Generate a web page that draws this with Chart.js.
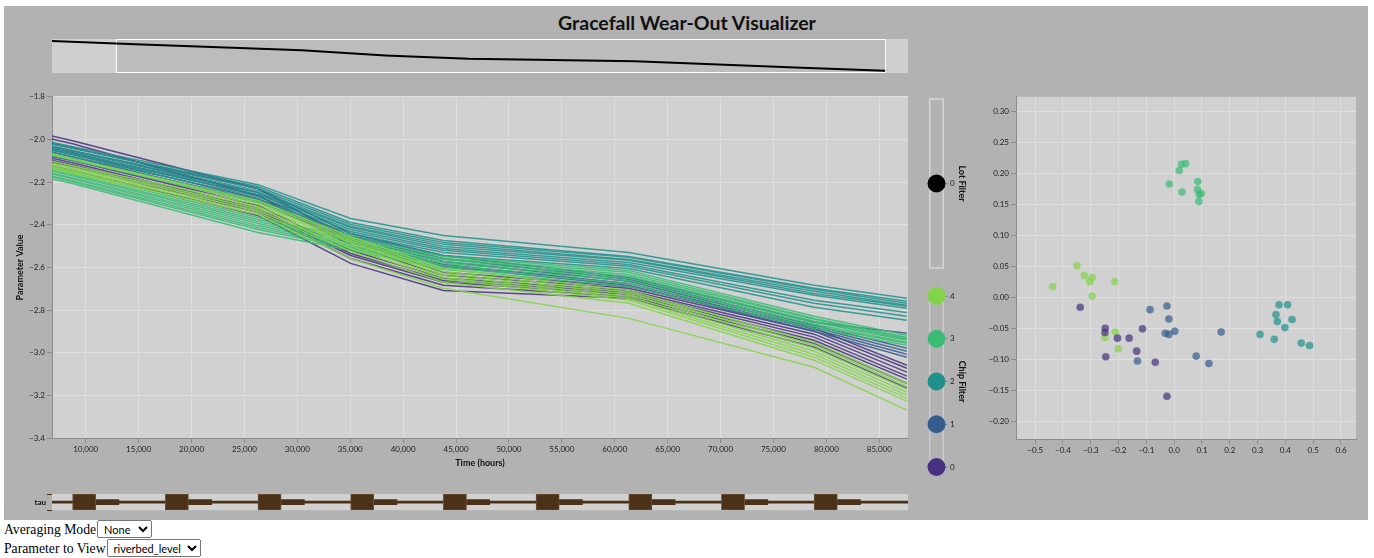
<!DOCTYPE html>
<html>
<head>
<meta charset="utf-8">
<title>Gracefall Wear-Out Visualizer</title>
<script src="https://cdn.jsdelivr.net/npm/chart.js@4/dist/chart.umd.min.js"></script>
<style>
  body { margin: 0; background: #fff; font-family: "Liberation Serif", serif; }
  #panel { position: absolute; left: 4px; top: 6px; width: 1364px; height: 514px; background: #b2b2b2; }
  #title { position: absolute; left: 0; top: 12px; width: 1374px; text-align: center;
           font: bold 19.5px Lato, "Open Sans", sans-serif; line-height: 22px; color: #111; }
  canvas { position: absolute; }
  .row { position: absolute; left: 4px; height: 19px; line-height: 19px; font-size: 13.7px; white-space: nowrap; }
  .row select { height: 18px; font: 11px Lato, sans-serif; vertical-align: top; margin: 0 0 0 1px; padding: 0 2px; }
</style>
</head>
<body>
<div id="panel"></div>
<div id="title">Gracefall Wear-Out Visualizer</div>
<canvas id="overview" width="856" height="34" style="left:52px;top:39px"></canvas>
<canvas id="main" width="912" height="390" style="left:0;top:90px"></canvas>
<canvas id="lot" width="55" height="190" style="left:920px;top:90px"></canvas>
<canvas id="chip" width="55" height="200" style="left:920px;top:280px"></canvas>
<canvas id="pca" width="400" height="380" style="left:960px;top:90px"></canvas>
<canvas id="tau" width="912" height="28" style="left:0;top:488px"></canvas>
<div class="row" style="top:520px">Averaging Mode<select style="width:55px"><option>None</option></select></div>
<div class="row" style="top:539px">Parameter to View<select style="width:94px"><option>riverbed_level</option></select></div>

<script>
// measurement times (hours) and per-chip curves of riverbed_level
const TIMES = [0, 8760, 26280, 35040, 43800, 61320, 78840, 87600];
const CHIP_COLORS = ["#46327e", "#365c8d", "#21918c", "#3bbb75", "#84d44b"];
const CHIP_IDS = [0, 1, 2, 3, 4];
const LOT_IDS = [0];

const CHIP0_LINES = [
  [-1.908, -2.006, -2.230, -2.474, -2.623, -2.689, -2.885, -3.059],
  [-1.922, -2.020, -2.263, -2.497, -2.637, -2.698, -2.899, -3.073],
  [-2.006, -2.099, -2.310, -2.520, -2.651, -2.708, -2.913, -3.091],
  [-2.015, -2.109, -2.324, -2.535, -2.661, -2.717, -2.927, -3.110],
  [-2.025, -2.118, -2.333, -2.544, -2.670, -2.726, -2.942, -3.124],
  [-2.034, -2.127, -2.343, -2.558, -2.684, -2.736, -2.956, -3.143],
  [-2.053, -2.146, -2.357, -2.581, -2.708, -2.745, -2.974, -3.166],
];
const CHIP1_LINES = [
  [-1.945, -2.039, -2.230, -2.441, -2.544, -2.647, -2.857, -2.909],
  [-1.959, -2.053, -2.249, -2.455, -2.558, -2.656, -2.871, -2.979],
  [-1.968, -2.062, -2.263, -2.464, -2.572, -2.665, -2.881, -2.993],
  [-1.978, -2.071, -2.277, -2.474, -2.586, -2.675, -2.890, -3.007],
  [-1.987, -2.081, -2.291, -2.483, -2.595, -2.684, -2.899, -3.021],
];
const CHIP2_LINES = [
  [-1.940, -2.034, -2.212, -2.371, -2.450, -2.530, -2.684, -2.745],
  [-1.950, -2.043, -2.221, -2.389, -2.474, -2.549, -2.698, -2.759],
  [-1.959, -2.053, -2.230, -2.399, -2.483, -2.553, -2.703, -2.768],
  [-1.964, -2.057, -2.240, -2.408, -2.492, -2.563, -2.712, -2.778],
  [-1.973, -2.067, -2.249, -2.413, -2.502, -2.567, -2.722, -2.782],
  [-1.978, -2.071, -2.258, -2.422, -2.511, -2.577, -2.731, -2.792],
  [-1.987, -2.081, -2.268, -2.432, -2.520, -2.586, -2.754, -2.811],
  [-1.996, -2.090, -2.282, -2.441, -2.530, -2.595, -2.768, -2.829],
  [-2.006, -2.099, -2.296, -2.450, -2.544, -2.605, -2.787, -2.848],
];
const CHIP3_LINES = [
  [-2.057, -2.156, -2.366, -2.460, -2.549, -2.614, -2.829, -2.918],
  [-2.067, -2.165, -2.375, -2.469, -2.558, -2.623, -2.839, -2.927],
  [-2.071, -2.170, -2.385, -2.478, -2.563, -2.633, -2.843, -2.932],
  [-2.081, -2.179, -2.394, -2.488, -2.572, -2.642, -2.853, -2.937],
  [-2.085, -2.184, -2.404, -2.497, -2.581, -2.651, -2.857, -2.942],
  [-2.095, -2.193, -2.413, -2.506, -2.591, -2.661, -2.867, -2.951],
  [-2.099, -2.198, -2.422, -2.511, -2.600, -2.675, -2.876, -2.956],
  [-2.109, -2.207, -2.436, -2.520, -2.609, -2.689, -2.885, -2.965],
];
const CHIP4_LINES = [
  [-1.992, -2.090, -2.287, -2.455, -2.605, -2.708, -2.951, -3.143],
  [-1.996, -2.095, -2.296, -2.464, -2.619, -2.717, -2.965, -3.157],
  [-2.029, -2.123, -2.305, -2.474, -2.628, -2.726, -2.979, -3.171],
  [-2.039, -2.132, -2.315, -2.483, -2.637, -2.736, -2.993, -3.185],
  [-2.043, -2.137, -2.324, -2.497, -2.647, -2.745, -3.007, -3.199],
  [-2.053, -2.146, -2.333, -2.511, -2.656, -2.754, -3.021, -3.213],
  [-2.057, -2.151, -2.343, -2.525, -2.670, -2.768, -3.035, -3.227],
  [-2.067, -2.160, -2.352, -2.558, -2.698, -2.839, -3.068, -3.269],
];

// mean curve for the overview strip
const OVERVIEW_MEAN = [-2.00, -2.11, -2.31, -2.48, -2.59, -2.675, -2.895, -2.99];

// projection scatter, one [pc1, pc2] pair per device
const PCA0 = [[-0.338, -0.016], [-0.248, -0.050], [-0.249, -0.057], [-0.204, -0.066], [-0.162, -0.066],
              [-0.114, -0.051], [-0.135, -0.087], [-0.246, -0.096], [-0.068, -0.105], [-0.026, -0.160]];
const PCA1 = [[-0.087, -0.020], [-0.026, -0.014], [-0.019, -0.035], [-0.032, -0.058], [-0.019, -0.060],
              [0.002, -0.055], [-0.132, -0.103], [0.079, -0.095], [0.125, -0.107], [0.169, -0.056]];
const PCA2 = [[0.377, -0.012], [0.408, -0.012], [0.366, -0.028], [0.371, -0.039], [0.424, -0.036],
              [0.398, -0.049], [0.309, -0.060], [0.360, -0.068], [0.457, -0.074], [0.487, -0.078]];
const PCA3 = [[-0.018, 0.183], [0.018, 0.205], [0.026, 0.215], [0.041, 0.216], [0.028, 0.170],
              [0.085, 0.187], [0.084, 0.174], [0.090, 0.166], [0.097, 0.168], [0.089, 0.155]];
const PCA4 = [[-0.350, 0.051], [-0.323, 0.035], [-0.295, 0.032], [-0.304, 0.025], [-0.214, 0.025],
              [-0.437, 0.017], [-0.295, 0.002], [-0.212, -0.056], [-0.249, -0.065], [-0.201, -0.083]];

// tau timeline blocks (hours)
const TAU_BOXES = [[8760, 10950], [17520, 19710], [26280, 28470], [35040, 37230], [43800, 45990],
                   [52560, 54750], [61320, 63510], [70080, 72270], [78840, 81030]];
const TAU_TAILS = [[10950, 13140], [19710, 21900], [28470, 30660], [37230, 39420], [45990, 48180],
                   [54750, 56940], [63510, 65700], [72270, 74460], [81030, 83220]];

const MAIN_X_RANGE = [6815, 87712];
const OVERVIEW_X_RANGE = [0, 90000];
const MAIN_X_TICKS = [10000, 15000, 20000, 25000, 30000, 35000, 40000, 45000,
                      50000, 55000, 60000, 65000, 70000, 75000, 80000, 85000];
const MAIN_Y_TICKS = [-3.4, -3.2, -3.0, -2.8, -2.6, -2.4, -2.2, -2.0, -1.8];
const PCA_X_TICKS = [-0.5, -0.4, -0.3, -0.2, -0.1, 0, 0.1, 0.2, 0.3, 0.4, 0.5, 0.6];
const PCA_Y_TICKS = [-0.2, -0.15, -0.1, -0.05, 0, 0.05, 0.1, 0.15, 0.2, 0.25, 0.3];

Chart.defaults.font.family = 'Lato, "Open Sans", sans-serif';
Chart.defaults.font.size = 8;
Chart.defaults.color = "#222";
Chart.defaults.animation = false;
Chart.defaults.responsive = false;
Chart.defaults.plugins.legend.display = false;
Chart.defaults.plugins.tooltip.enabled = false;

const minus = (s) => s.replace("-", "\u2212");
const fixedTicks = (list) => (scale) => { scale.ticks = list.map((v) => ({ value: v })); };
const AXIS_GRAY = "#8c8c8c";
const titleFont = { size: 9, weight: "bold" };

// fills the plot area before grid and marks
const plotBg = {
  id: "plotBg",
  beforeDraw(chart, args, opts) {
    const a = chart.chartArea, ctx = chart.ctx;
    ctx.save();
    ctx.fillStyle = opts.color || "#d1d1d1";
    ctx.fillRect(a.left, a.top, a.right - a.left, a.bottom - a.top);
    ctx.restore();
  },
};

// brush over the overview strip, spanning the main chart's range
const brush = {
  id: "brush",
  beforeDatasetsDraw(chart) {
    const x = chart.scales.x, a = chart.chartArea, ctx = chart.ctx;
    const x0 = x.getPixelForValue(MAIN_X_RANGE[0]), x1 = x.getPixelForValue(MAIN_X_RANGE[1]);
    ctx.save();
    ctx.fillStyle = "#bcbcbc";
    ctx.fillRect(x0, a.top, x1 - x0, a.bottom - a.top);
    ctx.strokeStyle = "#ffffff";
    ctx.lineWidth = 1;
    ctx.strokeRect(Math.round(x0) - 0.5, a.top + 0.5, Math.round(x1 - x0), a.bottom - a.top - 1);
    ctx.restore();
  },
};

const outline = {
  id: "outline",
  beforeDatasetsDraw(chart, args, opts) {
    const a = chart.chartArea, ctx = chart.ctx;
    ctx.save();
    ctx.strokeStyle = opts.color;
    ctx.lineWidth = 1.5;
    ctx.strokeRect(a.left + 0.75, a.top, a.right - a.left - 1.5, a.bottom - a.top);
    ctx.restore();
  },
};

// overview
new Chart(document.getElementById("overview"), {
  type: "line",
  data: {
    datasets: [{
      data: TIMES.map((t, i) => ({ x: t, y: OVERVIEW_MEAN[i] })),
      borderColor: "#000", borderWidth: 2, pointRadius: 0, clip: false,
    }],
  },
  options: {
    layout: { padding: 0 },
    scales: {
      x: { type: "linear", display: false, min: OVERVIEW_X_RANGE[0], max: OVERVIEW_X_RANGE[1] },
      y: { display: false, min: -3.067, max: -1.933 },
    },
    plugins: { plotBg: { color: "#cfcfcf" } },
  },
  plugins: [plotBg, brush],
});

// main time-series chart
const ALL_LINES = [CHIP0_LINES, CHIP1_LINES, CHIP2_LINES, CHIP3_LINES, CHIP4_LINES];
const lineSets = [];
ALL_LINES.forEach((lines, chip) => {
  lines.forEach((vals) => {
    lineSets.push({
      data: vals.map((v, i) => ({ x: TIMES[i], y: v })),
      borderColor: CHIP_COLORS[chip] + "dd",
      borderWidth: 1.5,
      pointRadius: 0,
      order: 4 - chip,
    });
  });
});

new Chart(document.getElementById("main"), {
  type: "line",
  data: { datasets: lineSets },
  options: {
    layout: { padding: { top: 6, right: 4, left: 0, bottom: 0 } },
    scales: {
      x: {
        type: "linear", min: MAIN_X_RANGE[0], max: MAIN_X_RANGE[1],
        afterBuildTicks: fixedTicks(MAIN_X_TICKS),
        afterFit: (s) => { s.height = 42; },
        ticks: { callback: (v) => v.toLocaleString("en-US"), padding: 2, maxRotation: 0, autoSkip: false },
        grid: { color: "#dedede", tickColor: AXIS_GRAY, tickLength: 5 },
        border: { color: AXIS_GRAY },
        title: { display: true, text: "Time (hours)", font: titleFont, color: "#111", padding: { top: 0, bottom: 11.6 } },
      },
      y: {
        min: -3.4, max: -1.8,
        afterBuildTicks: fixedTicks(MAIN_Y_TICKS),
        afterFit: (s) => { s.width = 52; },
        ticks: { callback: (v) => minus(v.toFixed(1)), padding: 2 },
        grid: { color: "#dedede", tickColor: AXIS_GRAY, tickLength: 5 },
        border: { color: AXIS_GRAY },
        title: { display: true, text: "Parameter Value", font: titleFont, color: "#111", padding: { top: 14.6, bottom: 0 } },
      },
    },
  },
  plugins: [plotBg],
});

// lot filter
new Chart(document.getElementById("lot"), {
  type: "scatter",
  data: { datasets: [{ data: LOT_IDS.map((l) => ({ x: 0.5, y: l })), pointRadius: 9, backgroundColor: "#000", borderWidth: 0, clip: false }] },
  options: {
    layout: { padding: { left: 7, top: 7, bottom: 12, right: 0 } },
    scales: {
      x: { display: false, min: 0, max: 1 },
      y: {
        position: "right", min: -1, max: 1,
        afterBuildTicks: fixedTicks(LOT_IDS),
        afterFit: (s) => { s.width = 31; },
        ticks: { padding: 2 },
        grid: { drawOnChartArea: false, tickLength: 4, tickColor: AXIS_GRAY },
        border: { display: false },
        title: { display: true, text: "Lot Filter", font: titleFont, color: "#111", padding: { top: 7.6, bottom: 0 } },
      },
    },
    plugins: { outline: { color: "#d6d6d6" } },
  },
  plugins: [outline],
});

// chip filter
new Chart(document.getElementById("chip"), {
  type: "scatter",
  data: {
    datasets: [{
      data: CHIP_IDS.map((c) => ({ x: 0.5, y: c })),
      pointRadius: 9, backgroundColor: CHIP_COLORS, borderWidth: 0, clip: false,
    }],
  },
  options: {
    layout: { padding: { left: 7, top: 16, bottom: 13, right: 0 } },
    scales: {
      x: { display: false, min: 0, max: 1 },
      y: {
        position: "right", min: 0, max: 4,
        afterBuildTicks: fixedTicks(CHIP_IDS),
        afterFit: (s) => { s.width = 31; },
        ticks: { padding: 2 },
        grid: { drawOnChartArea: false, tickLength: 4, tickColor: AXIS_GRAY },
        border: { display: false },
        title: { display: true, text: "Chip Filter", font: titleFont, color: "#111", padding: { top: 7.6, bottom: 0 } },
      },
    },
    plugins: { outline: { color: "rgba(214,214,214,0.7)" } },
  },
  plugins: [outline],
});

// projection scatter
const PCA_SETS = [PCA0, PCA1, PCA2, PCA3, PCA4];
new Chart(document.getElementById("pca"), {
  type: "scatter",
  data: {
    datasets: PCA_SETS.map((pts, chip) => ({
      data: pts.map(([x, y]) => ({ x, y })),
      backgroundColor: CHIP_COLORS[chip] + "b3",
      pointRadius: 3.8, borderWidth: 0,
    })),
  },
  options: {
    layout: { padding: { top: 6, right: 0, left: 0, bottom: 0 } },
    scales: {
      x: {
        type: "linear", min: -0.569, max: 0.654,
        afterBuildTicks: fixedTicks(PCA_X_TICKS),
        afterFit: (s) => { s.height = 31; },
        ticks: { callback: (v) => minus(v.toFixed(1)), padding: 2, maxRotation: 0, autoSkip: false },
        grid: { color: "#dedede", tickColor: AXIS_GRAY, tickLength: 5 },
        border: { color: AXIS_GRAY },
      },
      y: {
        min: -0.229, max: 0.324,
        afterBuildTicks: fixedTicks(PCA_Y_TICKS),
        afterFit: (s) => { s.width = 56; },
        ticks: { callback: (v) => minus(v.toFixed(2)), padding: 2 },
        grid: { color: "#dedede", tickColor: AXIS_GRAY, tickLength: 5 },
        border: { color: AXIS_GRAY },
      },
    },
  },
  plugins: [plotBg],
});

// tau timeline
const TAU_BROWN = "#4a3117";
new Chart(document.getElementById("tau"), {
  type: "bar",
  data: {
    labels: ["tau"],
    datasets: [
      { data: [{ y: "tau", x: MAIN_X_RANGE }], backgroundColor: TAU_BROWN, barThickness: 2, grouped: false, order: 3 },
      { data: TAU_TAILS.map((r) => ({ y: "tau", x: r })), backgroundColor: TAU_BROWN, barThickness: 5, grouped: false, order: 2 },
      { data: TAU_BOXES.map((r) => ({ y: "tau", x: r })), backgroundColor: TAU_BROWN, borderColor: "#6b5335",
        borderWidth: 1, borderSkipped: false, barThickness: 16, grouped: false, order: 1 },
    ],
  },
  options: {
    indexAxis: "y",
    layout: { padding: { top: 6, right: 4, left: 0, bottom: 4 } },
    scales: {
      x: { type: "linear", display: false, min: MAIN_X_RANGE[0], max: MAIN_X_RANGE[1] },
      y: {
        afterFit: (s) => { s.width = 52; },
        ticks: { font: { size: 8, weight: "bold" }, color: "#111", padding: 1 },
        grid: { drawOnChartArea: false, tickLength: 5, tickColor: TAU_BROWN },
        border: { display: false },
      },
    },
  },
  plugins: [plotBg],
});
</script>
</body>
</html>
